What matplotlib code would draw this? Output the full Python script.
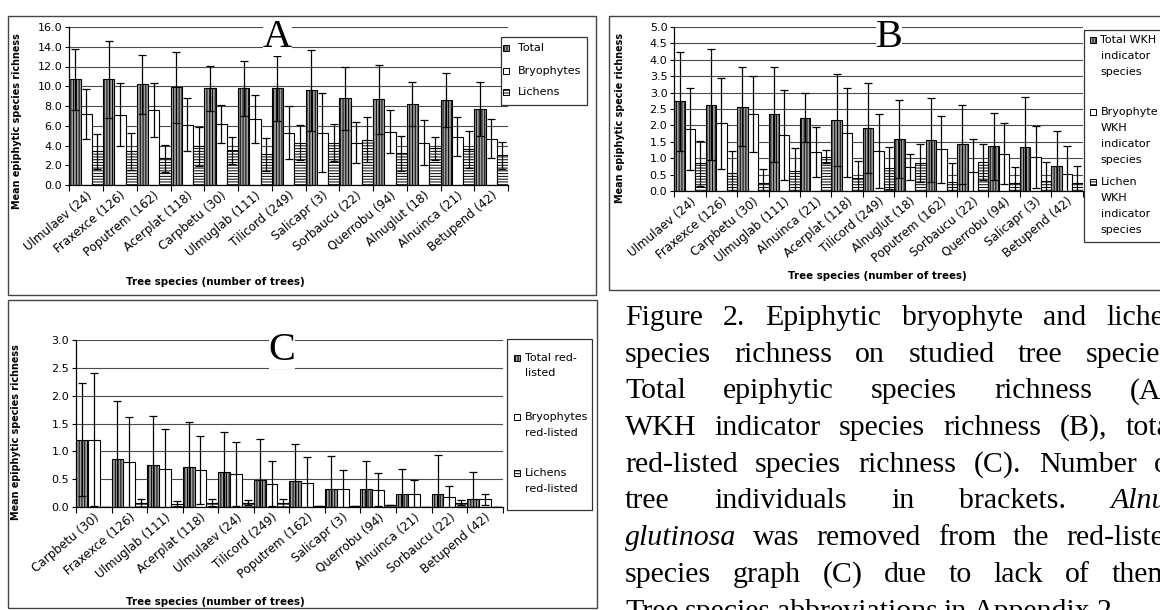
import numpy as np
import matplotlib.pyplot as plt
from matplotlib.patches import Rectangle

plt.rcParams['font.family'] = 'DejaVu Sans'
plt.rcParams['hatch.linewidth'] = 0.7

W, H = 1160, 610

# ---- panel A: total epiphytic species richness
a_species = ['Ulmulaev (24)', 'Fraxexce (126)', 'Poputrem (162)', 'Acerplat (118)',
             'Carpbetu (30)', 'Ulmuglab (111)', 'Tilicord (249)', 'Salicapr (3)',
             'Sorbaucu (22)', 'Querrobu (94)', 'Alnuglut (18)', 'Alnuinca (21)',
             'Betupend (42)']
a_total = [10.7, 10.7, 10.2, 9.9, 9.8, 9.8, 9.8, 9.6, 8.8, 8.7, 8.2, 8.6, 7.7]
a_total_sd = [3.1, 3.9, 3.0, 3.6, 2.3, 2.8, 3.3, 4.1, 3.2, 3.5, 2.2, 2.7, 2.7]
a_bryo = [7.2, 7.1, 7.6, 6.1, 6.2, 6.7, 5.3, 5.3, 4.3, 5.4, 4.3, 4.9, 4.7]
a_bryo_sd = [2.5, 3.2, 2.7, 2.7, 1.9, 2.4, 2.7, 4.0, 2.1, 2.2, 2.3, 2.0, 2.0]
a_lich = [3.4, 3.4, 2.7, 3.9, 3.5, 3.1, 4.3, 4.3, 4.6, 3.2, 3.7, 3.6, 3.0]
a_lich_sd = [1.8, 1.9, 1.4, 2.0, 1.4, 1.7, 1.8, 1.9, 2.3, 1.8, 1.2, 1.9, 1.4]

# ---- panel B: WKH indicator species richness
b_species = ['Ulmulaev (24)', 'Fraxexce (126)', 'Carpbetu (30)', 'Ulmuglab (111)',
             'Alnuinca (21)', 'Acerplat (118)', 'Tilicord (249)', 'Alnuglut (18)',
             'Poputrem (162)', 'Sorbaucu (22)', 'Querrobu (94)', 'Salicapr (3)',
             'Betupend (42)']
b_total = [2.73, 2.63, 2.57, 2.34, 2.24, 2.16, 1.92, 1.58, 1.55, 1.42, 1.37, 1.33, 0.77]
b_total_sd = [1.5, 1.7, 1.2, 1.45, 0.76, 1.41, 1.36, 1.19, 1.28, 1.2, 1.02, 1.55, 1.07]
b_bryo = [1.88, 2.06, 2.34, 1.71, 1.18, 1.78, 1.22, 0.74, 1.27, 0.57, 1.13, 1.03, 0.51]
b_bryo_sd = [1.25, 1.4, 1.16, 1.37, 0.76, 1.35, 1.12, 0.39, 1.03, 1.01, 0.93, 0.95, 0.86]
b_lich = [0.84, 0.54, 0.25, 0.62, 1.05, 0.39, 0.69, 0.84, 0.28, 0.89, 0.25, 0.30, 0.25]
b_lich_sd = [0.68, 0.68, 0.41, 0.7, 0.2, 0.53, 0.64, 0.58, 0.56, 0.54, 0.47, 0.59, 0.52]

# ---- panel C: red-listed species richness
c_species = ['Carpbetu (30)', 'Fraxexce (126)', 'Ulmuglab (111)', 'Acerplat (118)',
             'Ulmulaev (24)', 'Tilicord (249)', 'Poputrem (162)', 'Salicapr (3)',
             'Querrobu (94)', 'Alnuinca (21)', 'Sorbaucu (22)', 'Betupend (42)']
c_total = [1.21, 0.87, 0.76, 0.72, 0.63, 0.48, 0.46, 0.32, 0.32, 0.24, 0.24, 0.14]
c_total_sd = [1.01, 1.03, 0.88, 0.81, 0.71, 0.74, 0.67, 0.6, 0.51, 0.45, 0.69, 0.49]
c_bryo = [1.21, 0.81, 0.69, 0.66, 0.59, 0.42, 0.44, 0.32, 0.31, 0.24, 0.18, 0.14]
c_bryo_sd = [1.2, 0.81, 0.72, 0.61, 0.58, 0.41, 0.45, 0.34, 0.3, 0.24, 0.19, 0.1]
c_lich = [0.0, 0.07, 0.06, 0.08, 0.08, 0.07, 0.02, 0.02, 0.04, 0.0, 0.08, 0.0]
c_lich_sd = [0.0, 0.07, 0.05, 0.06, 0.05, 0.07, 0.0, 0.0, 0.0, 0.0, 0.04, 0.0]

caption = [
    "Figure 2. Epiphytic bryophyte and lichen",
    "species richness on studied tree species.",
    "Total epiphytic species richness (A),",
    "WKH indicator species richness (B), total",
    "red-listed species richness (C). Number of",
    "tree individuals in brackets. Alnus",
    "glutinosa was removed from the red-listed",
    "species graph (C) due to lack of them.",
    "Tree species abbreviations in Appendix 2.",
]
italic_words = {'Alnus', 'glutinosa'}

styles = [dict(facecolor='#a0a0a0', hatch='||||||', edgecolor='black'),
          dict(facecolor='white', edgecolor='black'),
          dict(facecolor='white', hatch='------', edgecolor='black')]

fig = plt.figure(figsize=(W / 100, H / 100), dpi=100)


def px_axes(x0, y0, x1, y1):
    return fig.add_axes([x0 / W, 1 - y1 / H, (x1 - x0) / W, (y1 - y0) / H])


def draw_panel(ax, labels, series, sds, ymax, ystep):
    n = len(labels)
    x = np.arange(n)
    w = 1 / 3
    for k, (vals, sd) in enumerate(zip(series, sds)):
        ax.bar(x + k * w, vals, width=w, align='edge', linewidth=0.8,
               zorder=2, **styles[k])
        ax.errorbar(x + k * w + w / 2, vals, yerr=sd, fmt='none', ecolor='black',
                    elinewidth=0.9, capsize=3, capthick=0.9, zorder=3)
    ax.set_xlim(0, n)
    ax.set_ylim(0, ymax)
    ax.set_yticks(np.arange(0, ymax + ystep / 2, ystep))
    ax.yaxis.set_major_formatter('{x:.1f}')
    ax.set_xticks(np.arange(n + 1))
    ax.set_xticklabels([])
    ax.set_xticks(x + 0.5, minor=True)
    # the source chart is stretched sideways, so 45 degree labels lean flatter
    ax.set_xticklabels(labels, minor=True, rotation=40, ha='right',
                       rotation_mode='anchor', fontsize=8.6)
    ax.tick_params(axis='x', which='minor', length=0, pad=3)
    ax.tick_params(axis='x', which='major', length=4, width=0.8)
    ax.tick_params(axis='y', length=3, width=0.8, labelsize=8, pad=2)
    ax.grid(axis='y', color='#4a4a4a', linewidth=0.8)
    ax.set_axisbelow(True)
    for s in ['top', 'right']:
        ax.spines[s].set_visible(False)
    for s in ['left', 'bottom']:
        ax.spines[s].set_linewidth(0.9)


def fig_rect(x0, y0, x1, y1, **kw):
    fig.add_artist(Rectangle((x0 / W, 1 - y1 / H), (x1 - x0) / W, (y1 - y0) / H,
                             transform=fig.transFigure, **kw))


def legend(box, mx, tx, entries, spacing):
    fig_rect(*box, facecolor='white', edgecolor='#333333', linewidth=0.9)
    for (y, lines), st in zip(entries, styles):
        fig_rect(mx, y - 3, mx + 6, y + 3, linewidth=0.7, **st)
        for i, line in enumerate(lines):
            fig.text(tx / W, 1 - (y + i * spacing) / H, line, fontsize=8, va='center')


# panel boxes
fig_rect(8, 16, 596, 295, facecolor='none', edgecolor='#444444', linewidth=1)
fig_rect(609, 16, 1175, 290, facecolor='none', edgecolor='#444444', linewidth=1)
fig_rect(8, 300, 597, 608, facecolor='none', edgecolor='#444444', linewidth=1)

axA = px_axes(69.3, 27, 508, 185)
draw_panel(axA, a_species, [a_total, a_bryo, a_lich], [a_total_sd, a_bryo_sd, a_lich_sd], 16, 2)
axB = px_axes(674.3, 27, 1082.7, 191)
draw_panel(axB, b_species, [b_total, b_bryo, b_lich], [b_total_sd, b_bryo_sd, b_lich_sd], 5, 0.5)
axC = px_axes(76, 340, 502.7, 507)
draw_panel(axC, c_species, [c_total, c_bryo, c_lich], [c_total_sd, c_bryo_sd, c_lich_sd], 3, 0.5)

# panel letters
for lx, ly, letter in [(277, 47, 'A'), (889, 47, 'B'), (282, 360, 'C')]:
    fig.text(lx / W, 1 - ly / H, letter, family='Liberation Serif', fontsize=29,
             ha='center', va='baseline',
             bbox=dict(facecolor='white', edgecolor='none', pad=0))

# axis titles
for x, y, t in [(17, 121, 'Mean epiphytic species richness'),
                (620, 118, 'Mean epiphytic specie richness'),
                (16, 432, 'Mean epiphytic species richness')]:
    fig.text(x / W, 1 - y / H, t, rotation=90, fontsize=6.9, fontweight='bold',
             ha='center', va='center')
for x, y in [(215, 282), (877, 276), (215, 602)]:
    fig.text(x / W, 1 - y / H, 'Tree species (number of trees)', fontsize=7.4,
             fontweight='bold', ha='center', va='center')

# legends
legend((500.7, 37, 587.3, 105), 503, 517.5,
       [(48, ['Total']), (70.7, ['Bryophytes']), (92.3, ['Lichens'])], 16)
legend((1084, 30, 1175, 242), 1090, 1100.5,
       [(40, ['Total WKH', 'indicator', 'species']),
        (112, ['Bryophyte', 'WKH', 'indicator', 'species']),
        (182, ['Lichen', 'WKH', 'indicator', 'species'])], 16)
legend((506.7, 339, 592, 510), 513.5, 525,
       [(358, ['Total red-', 'listed']), (417, ['Bryophytes', 'red-listed']),
        (473, ['Lichens', 'red-listed'])], 15.5)

# justified caption (runs past the right edge, as in the source page)
renderer = fig.canvas.get_renderer()
x_left, x_right = 625, 1179
for k, line in enumerate(caption):
    y = 325 + 36.7 * k
    words = line.split()
    texts = [fig.text(0, 1 - y / H, wd, family='Liberation Serif', fontsize=21.5,
                      style='italic' if wd in italic_words else 'normal',
                      va='baseline') for wd in words]
    widths = [t.get_window_extent(renderer).width for t in texts]
    if k == len(caption) - 1:
        gap = 6
    else:
        gap = (x_right - x_left - sum(widths)) / (len(words) - 1)
    x = x_left
    for t, wdt in zip(texts, widths):
        t.set_x(x / W)
        x += wdt + gap

fig.savefig('out.png', dpi=100)
